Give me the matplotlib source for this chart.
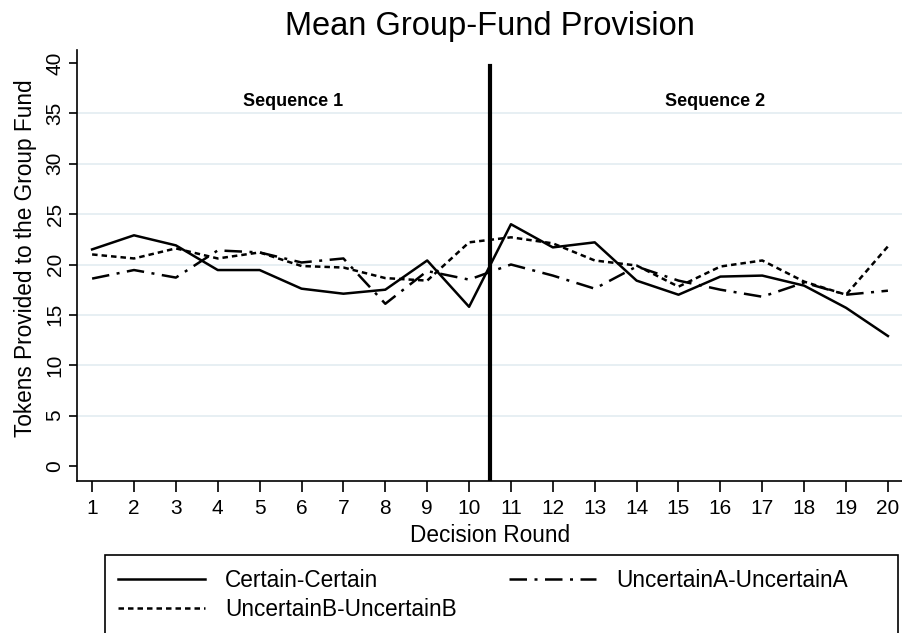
import matplotlib.pyplot as plt
from matplotlib.patches import Rectangle

plt.rcParams['font.family'] = ['Liberation Sans', 'DejaVu Sans']

rounds = list(range(1, 21))
certain = [21.5, 22.9, 21.9, 19.45, 19.45, 17.6, 17.1, 17.5, 20.4, 15.8,
           24.0, 21.7, 22.2, 18.4, 17.0, 18.8, 18.9, 17.9, 15.7, 12.9]
uncertain_a = [18.6, 19.45, 18.7, 21.4, 21.2, 20.2, 20.6, 16.1, 19.35, 18.5,
               20.0, 18.9, 17.6, 19.8, 18.4, 17.5, 16.8, 18.2, 17.0, 17.4]
uncertain_b = [21.0, 20.6, 21.6, 20.6, 21.2, 19.85, 19.7, 18.65, 18.4, 22.2,
               22.7, 22.1, 20.4, 19.9, 17.8, 19.8, 20.4, 18.3, 17.0, 21.8]
yticks = [0, 5, 10, 15, 20, 25, 30, 35, 40]

fig = plt.figure(figsize=(9.03, 6.33), dpi=100)
ax = fig.add_axes([0.0853, 0.2401, 0.9147, 0.6809])

# gridlines (Stata style, skip the ends)
for g in yticks[1:-1]:
    ax.axhline(g, color='#e5eef2', lw=1.3, zorder=0)

l1, = ax.plot(rounds, certain, color='black', lw=1.8, ls='-')
l2, = ax.plot(rounds, uncertain_a, color='black', lw=1.8, ls=(0, (7, 3, 1.2, 3)))
l3, = ax.plot(rounds, uncertain_b, color='black', lw=1.8, ls=(0, (2.2, 1.6)))

ax.plot([10.5, 10.5], [-1.5, 39.7], color='black', lw=3)

ax.text(5.8, 36.2, 'Sequence 1', fontsize=13, fontweight='bold', ha='center', va='center')
ax.text(15.87, 36.2, 'Sequence 2', fontsize=13, fontweight='bold', ha='center', va='center')

ax.set_xlim(0.64, 20.36)
ax.set_ylim(-1.5, 41.3)
ax.set_xticks(rounds)
ax.set_yticks(yticks)
ax.tick_params(axis='x', length=8, width=1.2, labelsize=15, pad=5)
ax.tick_params(axis='y', length=6, width=1.2, labelsize=15, labelrotation=90, pad=3)
for lab in ax.get_yticklabels():
    lab.set_va('center')
ax.spines['top'].set_visible(False)
ax.spines['right'].set_visible(False)
ax.spines['left'].set_linewidth(1.2)
ax.spines['bottom'].set_linewidth(1.2)

ax.set_xlabel('Decision Round', fontsize=16.3, labelpad=4)
ax.set_ylabel('Tokens Provided to the Group Fund', fontsize=16.3)
ax.yaxis.set_label_coords(-0.049, 0.517)
fig.text(0.543, 0.958, 'Mean Group-Fund Provision', fontsize=23.5, ha='center', va='center')

# legend: Stata-like wide box, two columns
fig.add_artist(Rectangle((105 / 903, -0.1), 793 / 903, 0.1 + 78 / 633,
                         transform=fig.transFigure, fill=False, ec='black', lw=1.2))
fig.legend([l1, l3, l2], ['Certain-Certain', 'UncertainB-UncertainB', 'UncertainA-UncertainA'],
           loc='upper left', bbox_to_anchor=(118 / 903, 0.101), ncol=2, fontsize=16.3,
           handlelength=3.85, frameon=False, borderpad=0, borderaxespad=0,
           labelspacing=0.28, handletextpad=0.88, columnspacing=2.3)

fig.savefig('out.png', dpi=100)
